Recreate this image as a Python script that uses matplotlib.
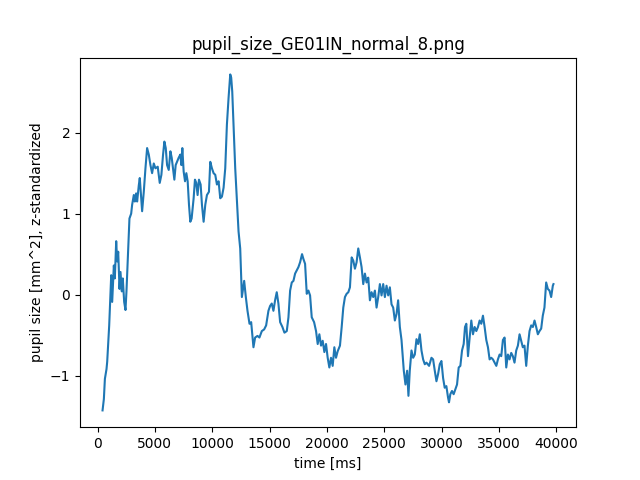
import matplotlib
matplotlib.use("Agg")
import matplotlib.pyplot as plt

# valores (tempo em ms, pupila z-padronizada)
time_ms = [
    435, 550, 640, 780, 840, 1015, 1190, 1275, 1420, 1505, 1625, 1710, 1800,
    1915, 2000, 2115, 2200, 2320, 2435, 2520, 2635, 2780, 2930, 3015, 3160,
    3250, 3360, 3450, 3595, 3680, 3800, 3885, 4030, 4175, 4320, 4465, 4610,
    4755, 4900, 5045, 5245, 5420, 5565, 5710, 5825, 5945, 6060, 6205, 6350,
    6465, 6580, 6695, 6810, 6930, 7070, 7215, 7305, 7390, 7505, 7625, 7740,
    7855, 7970, 8085, 8200, 8375, 8490, 8605, 8720, 8840, 8985, 9100, 9245,
    9390, 9535, 9710, 9825, 9970, 10115, 10260, 10405, 10550, 10695, 10840,
    10985, 11130, 11275, 11420, 11565, 11650, 11740, 11855, 12000, 12150,
    12290, 12435, 12580, 12780, 12925, 13070, 13245, 13390, 13590, 13735,
    13940, 14110, 14320, 14520, 14695, 14895, 15040, 15185, 15330, 15475,
    15620, 15765, 15915, 16115, 16290, 16495, 16640, 16785, 16930, 17075,
    17220, 17365, 17510, 17655, 17825, 17945, 18090, 18235, 18380, 18525,
    18670, 18875, 19045, 19190, 19335, 19480, 19625, 19770, 19915, 20060,
    20205, 20350, 20495, 20640, 20785, 20930, 21130, 21280, 21420, 21565,
    21710, 21860, 22000, 22150, 22290, 22435, 22580, 22725, 22870, 23015,
    23160, 23305, 23450, 23595, 23740, 23885, 24030, 24175, 24320, 24465,
    24610, 24755, 24900, 25045, 25190, 25335, 25480, 25625, 25770, 25915,
    26060, 26200, 26350, 26495, 26695, 26840, 26985, 27100, 27215, 27365,
    27510, 27655, 27800, 27945, 28090, 28235, 28380, 28525, 28670, 28900,
    29105, 29250, 29395, 29540, 29685, 29830, 29975, 30120, 30260, 30405,
    30550, 30635, 30750, 30895, 31040, 31190, 31335, 31480, 31625, 31770,
    31915, 32030, 32145, 32290, 32435, 32580, 32725, 32870, 33015, 33160,
    33305, 33450, 33595, 33740, 33885, 34030, 34175, 34320, 34465, 34610,
    34760, 34900, 35045, 35190, 35335, 35480, 35625, 35770, 35915, 36060,
    36200, 36345, 36495, 36640, 36785, 36930, 37070, 37215, 37365, 37510,
    37655, 37800, 37945, 38090, 38235, 38380, 38525, 38670, 38810, 38955,
    39105, 39250, 39395, 39540, 39685, 39740,
]
pupil_z = [
    -1.43, -1.29, -1.04, -0.92, -0.83, -0.38, 0.24, -0.09, 0.36, 0.20, 0.66,
    0.41, 0.53, 0.07, 0.28, 0.04, 0.20, -0.09, -0.19, 0.04, 0.45, 0.94, 1.00,
    1.11, 1.23, 1.15, 1.25, 1.15, 1.35, 1.44, 1.19, 1.03, 1.27, 1.56, 1.81,
    1.73, 1.60, 1.50, 1.62, 1.56, 1.58, 1.38, 1.48, 1.73, 1.89, 1.81, 1.60,
    1.54, 1.77, 1.69, 1.56, 1.42, 1.60, 1.64, 1.69, 1.73, 1.60, 1.81, 1.52,
    1.40, 1.50, 1.40, 1.11, 0.90, 0.94, 1.19, 1.42, 1.38, 1.23, 1.42, 1.36,
    1.11, 0.90, 1.11, 1.23, 1.27, 1.64, 1.56, 1.50, 1.48, 1.36, 1.40, 1.19,
    1.21, 1.32, 1.56, 2.10, 2.43, 2.72, 2.68, 2.51, 2.10, 1.56, 1.15, 0.78,
    0.57, -0.03, 0.17, -0.03, -0.20, -0.36, -0.34, -0.65, -0.53, -0.51, -0.53,
    -0.45, -0.43, -0.38, -0.20, -0.14, -0.11, -0.20, -0.07, 0.03, -0.11,
    -0.34, -0.40, -0.47, -0.45, -0.28, 0.05, 0.15, 0.17, 0.26, 0.30, 0.34,
    0.40, 0.50, 0.44, 0.38, 0.01, 0.05, -0.01, -0.28, -0.34, -0.45, -0.61,
    -0.49, -0.63, -0.57, -0.71, -0.61, -0.78, -0.90, -0.78, -0.88, -0.65,
    -0.78, -0.70, -0.63, -0.40, -0.16, -0.03, 0.01, 0.03, 0.09, 0.46, 0.42,
    0.32, 0.40, 0.57, 0.46, 0.34, 0.13, 0.26, 0.15, 0.21, -0.07, 0.03, -0.03,
    0.05, -0.16, -0.03, 0.13, -0.01, 0.13, -0.03, 0.11, -0.01, 0.09, -0.12,
    -0.16, -0.32, -0.24, -0.07, -0.40, -0.56, -0.94, -1.11, -0.94, -1.25,
    -0.94, -0.69, -0.78, -0.74, -0.55, -0.61, -0.49, -0.69, -0.80, -0.86,
    -0.84, -0.88, -0.78, -0.80, -0.94, -1.07, -0.98, -0.86, -0.82, -1.03,
    -1.15, -1.13, -1.27, -1.33, -1.23, -1.19, -1.23, -1.17, -1.11, -0.90,
    -0.88, -0.69, -0.61, -0.40, -0.36, -0.76, -0.53, -0.32, -0.49, -0.40,
    -0.45, -0.40, -0.32, -0.36, -0.26, -0.40, -0.56, -0.65, -0.80, -0.78,
    -0.80, -0.84, -0.88, -0.80, -0.74, -0.76, -0.56, -0.53, -0.90, -0.74,
    -0.80, -0.72, -0.76, -0.84, -0.69, -0.63, -0.49, -0.57, -0.65, -0.63,
    -0.88, -0.63, -0.45, -0.38, -0.40, -0.32, -0.40, -0.49, -0.45, -0.42,
    -0.26, -0.16, 0.15, 0.07, 0.05, -0.03, 0.11, 0.13,
]

fig, ax = plt.subplots(figsize=(6.4, 4.8), dpi=100)
ax.plot(time_ms, pupil_z, color="#1f77b4", lw=1.5)
ax.set_title("pupil_size_GE01IN_normal_8.png")
ax.set_xlabel("time [ms]")
ax.set_ylabel("pupil size [mm^2], z-standardized")

fig.savefig("out.png")
